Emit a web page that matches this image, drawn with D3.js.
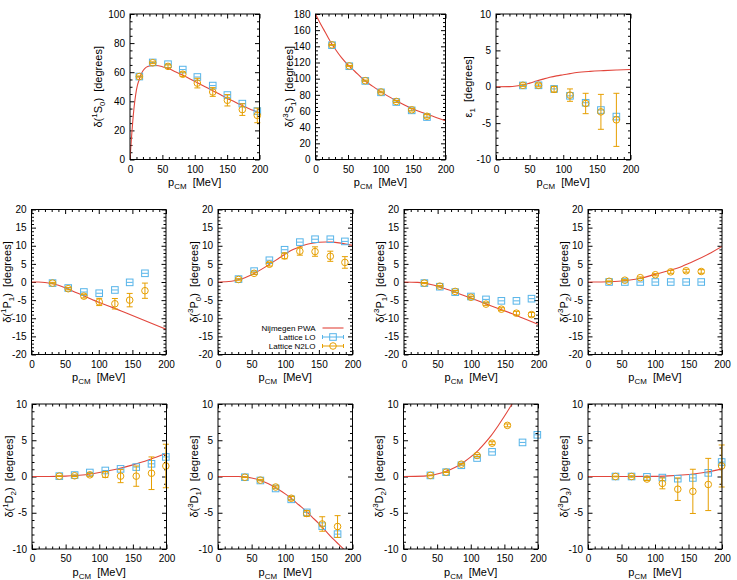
<!DOCTYPE html>
<html>
<head>
<meta charset="utf-8">
<script src="https://cdn.jsdelivr.net/npm/d3@7"></script>
<style>
  body { margin: 0; background: #fff; }
  svg text { font-family: "Liberation Sans", Arial, Helvetica, sans-serif; fill: #000; }
</style>
</head>
<body>
<svg id="chart" width="737" height="580"></svg>
<script>
// lattice momenta p_CM [MeV], phase shifts [degrees], N2LO errors [degrees]
// Nijmegen PWA curves as [p, delta] pairs
var mom1S0 = [14.4, 35.1, 58.7, 81.5, 104, 127.8, 150.4, 173.5, 196.6];
var lo1S0 = [57, 66.7, 65.5, 61.8, 56.7, 50.8, 44.3, 38.4, 33.3];
var n2lo1S0 = [57, 66.5, 64, 58.6, 52.5, 46.4, 40.7, 34.3, 30.3];
var err1S0 = [0.4, 0.6, 1, 1.5, 3.3, 3, 3.9, 4, 5];
var pwa1S0 = [[0,0],[2,13],[5,30],[10,48],[15,56],[20,61],[30,64.3],[40,64.6],[50,63.8],[60,62.3],[70,60.3],[80,58.2],[90,56],[100,53.7],[110,51.4],[120,49.1],[130,46.8],[140,44.5],[150,42],[160,40],[170,37.8],[180,35.8],[190,33.8],[200,32]];

var mom3S1 = [25.4, 52, 76.6, 100.8, 124.3, 148, 171.5];
var lo3S1 = [141.4, 115.4, 97.2, 83.1, 71.1, 60.8, 52.5];
var n2lo3S1 = [141.8, 115.8, 97.5, 83.5, 71.8, 61.5, 53.5];
var err3S1 = [0.5, 0.5, 0.7, 1, 1.2, 1.5, 2];
var pwa3S1 = [[0,180],[5,172],[10,164.5],[15,157.5],[20,150],[25,143],[30,137],[40,126],[50,117],[60,109.5],[75,98],[90,89.5],[100,84],[125,72.5],[150,62.5],[175,55],[200,48]];

var momE1 = [40, 63.2, 86.4, 110, 133.3, 156, 179];
var loE1 = [0.18, 0.2, -0.3, -1.25, -2.2, -3.2, -4.1];
var n2loE1 = [0.2, 0.2, -0.35, -1.15, -2.3, -3.45, -4.55];
var errE1 = [0.15, 0.2, 0.4, 0.85, 1.4, 2.4, 3.65];
var pwaE1 = [[0,0],[20,0.02],[30,0.1],[40,0.25],[50,0.5],[60,0.78],[70,1.05],[80,1.3],[90,1.5],[100,1.65],[110,1.8],[120,1.95],[140,2.12],[160,2.22],[180,2.3],[200,2.38]];

var mom1P1 = [31.3, 54.6, 77.9, 100.7, 124, 146, 168.7];
var lo1P1 = [-0.3, -1.66, -2.76, -3.1, -2.2, -0.1, 2.4];
var n2lo1P1 = [-0.3, -1.85, -3.9, -5.5, -6.0, -5.0, -2.4];
var err1P1 = [0.2, 0.3, 0.5, 1.0, 1.45, 1.85, 2.1];
var pwa1P1 = [[0,0],[10,-0.02],[20,-0.12],[30,-0.4],[40,-0.9],[50,-1.6],[60,-2.4],[70,-3.2],[80,-4.0],[90,-4.8],[100,-5.6],[120,-7.0],[140,-8.5],[160,-10.0],[180,-11.5],[200,-13]];

var mom3P0 = [30.5, 53.7, 76.4, 99, 121.7, 144.3, 167, 188.7];
var lo3P0 = [0.8, 3.0, 6.0, 8.9, 11.0, 11.8, 11.8, 11.2];
var n2lo3P0 = [0.7, 2.4, 4.9, 7.2, 8.5, 8.4, 7.1, 5.4];
var err3P0 = [0.2, 0.3, 0.5, 0.8, 1.1, 1.3, 1.4, 1.6];
var pwa3P0 = [[0,0],[20,0.2],[30,0.6],[40,1.2],[50,2.0],[60,3.0],[70,4.1],[80,5.3],[90,6.5],[100,7.7],[110,8.8],[120,9.6],[130,10.3],[140,10.7],[150,10.95],[160,11.05],[170,11.0],[180,10.8],[190,10.5],[200,10.1]];

var mom3P1 = [30.3, 53.2, 76.1, 99.5, 121.9, 144.8, 167.2, 189.6];
var lo3P1 = [-0.3, -1.3, -2.8, -4.0, -4.8, -5.2, -5.2, -4.6];
var n2lo3P1 = [-0.3, -1.15, -2.6, -4.2, -6.1, -7.5, -8.6, -9.0];
var err3P1 = [0.15, 0.2, 0.25, 0.3, 0.35, 0.4, 0.5, 0.6];
var pwa3P1 = [[0,0],[20,-0.1],[30,-0.3],[40,-0.7],[50,-1.2],[60,-1.8],[70,-2.4],[80,-3.1],[90,-3.8],[100,-4.5],[120,-5.9],[140,-7.3],[160,-8.7],[180,-10.2],[200,-11.7]];

var mom3P2 = [31.5, 55, 78, 100.5, 123.5, 146.5, 169];
var lo3P2 = [0, 0, 0, 0, 0, 0, 0];
var n2lo3P2 = [0.2, 0.5, 1.2, 2.0, 2.8, 3.1, 2.9];
var err3P2 = [0.1, 0.15, 0.2, 0.3, 0.4, 0.4, 0.5];
var pwa3P2 = [[0,0],[20,0.02],[40,0.15],[50,0.28],[60,0.48],[80,1.1],[100,2.1],[120,3.1],[140,4.3],[160,5.9],[180,7.7],[200,9.8]];

var mom1D2 = [40.6, 63.4, 86, 109, 131.7, 155, 177.7, 199];
var lo1D2 = [0.05, 0.2, 0.55, 0.83, 1.05, 1.3, 1.75, 2.7];
var n2lo1D2 = [0.05, 0.1, 0.23, 0.27, 0.05, 0.05, 0.45, 1.45];
var err1D2 = [0.05, 0.1, 0.2, 0.4, 0.9, 1.4, 2.25, 3.0];
var pwa1D2 = [[0,0],[25,0],[50,0.05],[75,0.2],[100,0.55],[125,1.0],[150,1.6],[175,2.35],[200,3.2]];

var mom3D1 = [40, 63, 85.7, 108.9, 132, 155, 177.8];
var lo3D1 = [-0.1, -0.55, -1.65, -3.15, -4.95, -6.85, -7.95];
var n2lo3D1 = [-0.1, -0.5, -1.45, -3.0, -5.1, -6.55, -6.9];
var err3D1 = [0.05, 0.1, 0.15, 0.25, 0.4, 1.0, 1.5];
var pwa3D1 = [[0,0],[30,0],[40,-0.05],[50,-0.2],[60,-0.45],[70,-0.8],[80,-1.25],[90,-1.8],[100,-2.4],[110,-3.1],[120,-3.9],[130,-4.7],[140,-5.6],[150,-6.5],[160,-7.5],[170,-8.5],[180,-9.4],[190,-10.3],[200,-11.2]];

var mom3D2 = [40, 63.4, 86, 109.4, 131.7, 154.5, 177, 199];
var lo3D2 = [0.15, 0.6, 1.55, 2.55, 3.4, null, 4.7, 5.75];
var n2lo3D2 = [0.15, 0.6, 1.7, 2.9, 4.6, 7.05, null, null];
var err3D2 = [0.05, 0.05, 0.1, 0.15, 0.2, 0.2, 0, 0];
var pwa3D2 = [[0,0],[30,0.05],[40,0.15],[50,0.35],[60,0.6],[70,0.95],[80,1.4],[90,2.0],[100,2.7],[110,3.5],[120,4.5],[130,5.6],[140,6.9],[150,8.3],[160,9.8],[170,11.4],[180,13]];

var mom3D3 = [41, 65, 88, 111, 134, 156.5, 179.5, 199.5];
var lo3D3 = [0, 0, -0.05, -0.15, -0.3, -0.2, 0.5, 2.0];
var n2lo3D3 = [0, 0, -0.35, -0.95, -1.75, -2.05, -1.1, 1.45];
var err3D3 = [0.05, 0.1, 0.2, 0.75, 1.55, 3.05, 3.6, 2.9];
var pwa3D3 = [[0,0],[100,0.02],[120,0.08],[140,0.2],[160,0.38],[180,0.65],[200,1.05]];

var legendNames = ['Nijmegen PWA', 'Lattice LO', 'Lattice N2LO'];

var red = '#e2463c', blue = '#56b4e9', orange = '#e69f00';
var SP = '\u00a0\u00a0';

function wave(s, l, j) {
  return [['δ(', ''], [s, 'sup'], [l, ''], [j, 'sub'], [')' + SP + '[degrees]', '']];
}

var panels = [
  {x: 130, y: 14, w: 129.5, h: 145.5, yDom: [0, 100], yStep: 20, ySub: 4, lab: wave('1', 'S', '0'), off: 32,
   mom: mom1S0, lo: lo1S0, n2: n2lo1S0, err: err1S0, pwa: pwa1S0},
  {x: 315.5, y: 14, w: 130, h: 145.5, yDom: [0, 180], yStep: 20, ySub: 4, lab: wave('3', 'S', '1'), off: 27,
   mom: mom3S1, lo: lo3S1, n2: n2lo3S1, err: err3S1, pwa: pwa3S1},
  {x: 496, y: 14, w: 134.5, h: 145.5, yDom: [-10, 10], yStep: 5, ySub: 5, lab: [['ε', ''], ['1', 'sub'], [SP + '[degrees]', '']], off: 28,
   mom: momE1, lo: loE1, n2: n2loE1, err: errE1, pwa: pwaE1},
  {x: 31.5, y: 209.5, w: 134.5, h: 145, yDom: [-20, 20], yStep: 5, ySub: 5, lab: wave('1', 'P', '1'), off: 24.5,
   mom: mom1P1, lo: lo1P1, n2: n2lo1P1, err: err1P1, pwa: pwa1P1},
  {x: 218, y: 209.5, w: 134.5, h: 145, yDom: [-20, 20], yStep: 5, ySub: 5, lab: wave('3', 'P', '0'), off: 24.5,
   mom: mom3P0, lo: lo3P0, n2: n2lo3P0, err: err3P0, pwa: pwa3P0, legend: true},
  {x: 404, y: 209.5, w: 134.5, h: 145, yDom: [-20, 20], yStep: 5, ySub: 5, lab: wave('3', 'P', '1'), off: 24.5,
   mom: mom3P1, lo: lo3P1, n2: n2lo3P1, err: err3P1, pwa: pwa3P1},
  {x: 588, y: 209.5, w: 134, h: 145, yDom: [-20, 20], yStep: 5, ySub: 5, lab: wave('3', 'P', '2'), off: 24.5,
   mom: mom3P2, lo: lo3P2, n2: n2lo3P2, err: err3P2, pwa: pwa3P2},
  {x: 32, y: 404, w: 134.5, h: 145, yDom: [-10, 10], yStep: 5, ySub: 5, lab: wave('1', 'D', '2'), off: 23,
   mom: mom1D2, lo: lo1D2, n2: n2lo1D2, err: err1D2, pwa: pwa1D2},
  {x: 218, y: 404, w: 134.5, h: 145, yDom: [-10, 10], yStep: 5, ySub: 5, lab: wave('3', 'D', '1'), off: 24.5,
   mom: mom3D1, lo: lo3D1, n2: n2lo3D1, err: err3D1, pwa: pwa3D1},
  {x: 403.5, y: 404, w: 134.5, h: 145, yDom: [-10, 10], yStep: 5, ySub: 5, lab: wave('3', 'D', '2'), off: 24.5,
   mom: mom3D2, lo: lo3D2, n2: n2lo3D2, err: err3D2, pwa: pwa3D2},
  {x: 588, y: 404, w: 134, h: 145, yDom: [-10, 10], yStep: 5, ySub: 5, lab: wave('3', 'D', '3'), off: 24.5,
   mom: mom3D3, lo: lo3D3, n2: n2lo3D3, err: err3D3, pwa: pwa3D3}
];

var svg = d3.select('#chart');

function richText(sel, parts, size) {
  var cur = 0;
  parts.forEach(function(p) {
    var target = p[1] === 'sup' ? -0.42 * size : (p[1] === 'sub' ? 0.3 * size : 0);
    sel.append('tspan')
      .attr('dy', target - cur)
      .attr('font-size', p[1] ? size * 0.72 : size)
      .text(p[0]);
    cur = target;
  });
}

function axis(g, gen, scale, vals, len, labels, pad, tr) {
  var a = g.append('g')
    .attr('transform', tr || null)
    .call(gen(scale).tickValues(vals).tickSize(-len).tickSizeOuter(0).tickPadding(pad)
      .tickFormat(labels ? function(d) { return String(d); } : ''));
  a.select('.domain').remove();
  a.selectAll('line').attr('stroke', '#000').attr('stroke-width', 1);
  a.selectAll('text').attr('font-size', 10).attr('font-family', null);
  return a;
}

function square(g, cx, cy) {
  g.append('rect').attr('x', cx - 3.3).attr('y', cy - 3.3).attr('width', 6.6).attr('height', 6.6)
    .attr('fill', 'none').attr('stroke', blue).attr('stroke-width', 1);
}

function errBar(g, cx, y1, y2, col) {
  g.append('line').attr('x1', cx).attr('x2', cx).attr('y1', y1).attr('y2', y2).attr('stroke', col);
  [y1, y2].forEach(function(yy) {
    g.append('line').attr('x1', cx - 3).attr('x2', cx + 3).attr('y1', yy).attr('y2', yy).attr('stroke', col);
  });
}

panels.forEach(function(c, i) {
  var g = svg.append('g').attr('transform', 'translate(' + c.x + ',' + c.y + ')');
  var x = d3.scaleLinear().domain([0, 200]).range([0, c.w]);
  var y = d3.scaleLinear().domain(c.yDom).range([c.h, 0]);

  var xMajor = d3.range(0, 201, 50);
  var xMinor = d3.range(0, 201, 10).filter(function(v) { return v % 50 !== 0; });
  var yMajor = d3.range(c.yDom[0], c.yDom[1] + 0.001, c.yStep);
  var ms = c.yStep / c.ySub;
  var yMinor = d3.range(c.yDom[0], c.yDom[1] + 0.001, ms).filter(function(v) {
    var f = ((v - c.yDom[0]) / c.yStep) % 1;
    return f > 0.01 && f < 0.99;
  });

  var cid = 'clip' + i;
  g.append('clipPath').attr('id', cid).append('rect').attr('width', c.w).attr('height', c.h);

  // ticks (inward, mirrored)
  axis(g, d3.axisBottom, x, xMajor, 4.5, true, 6, 'translate(0,' + c.h + ')');
  axis(g, d3.axisBottom, x, xMinor, 2.5, false, 0, 'translate(0,' + c.h + ')');
  axis(g, d3.axisTop, x, xMajor, 4.5, false, 0);
  axis(g, d3.axisTop, x, xMinor, 2.5, false, 0);
  axis(g, d3.axisLeft, y, yMajor, 4.5, true, 5);
  axis(g, d3.axisLeft, y, yMinor, 2.5, false, 0);
  axis(g, d3.axisRight, y, yMajor, 4.5, false, 0, 'translate(' + c.w + ',0)');
  axis(g, d3.axisRight, y, yMinor, 2.5, false, 0, 'translate(' + c.w + ',0)');

  // axis labels
  var xl = g.append('text').attr('x', c.w / 2).attr('y', c.h + 26.5).attr('text-anchor', 'middle');
  richText(xl, [['p', ''], ['CM', 'sub'], [SP + '[MeV]', '']], 11);

  var yl = g.append('text')
    .attr('transform', 'translate(' + (-c.off + 4) + ',' + (c.h / 2) + ') rotate(-90)')
    .attr('text-anchor', 'middle');
  richText(yl, c.lab, 11);

  // Nijmegen PWA
  var line = d3.line()
    .x(function(d) { return x(d[0]); })
    .y(function(d) { return y(d[1]); })
    .curve(d3.curveMonotoneX);
  g.append('path').datum(c.pwa).attr('clip-path', 'url(#' + cid + ')')
    .attr('d', line).attr('fill', 'none').attr('stroke', red).attr('stroke-width', 1.1);

  // Lattice LO
  var pts = g.append('g');
  c.mom.forEach(function(p, k) {
    if (c.lo[k] === null) return;
    var cx = x(p), cy = y(c.lo[k]);
    pts.append('line').attr('x1', cx - 3).attr('x2', cx + 3).attr('y1', cy).attr('y2', cy).attr('stroke', blue);
    square(pts, cx, cy);
  });
  // Lattice N2LO
  c.mom.forEach(function(p, k) {
    if (c.n2[k] === null) return;
    var cx = x(p), cy = y(c.n2[k]);
    errBar(pts, cx, y(c.n2[k] - c.err[k]), y(c.n2[k] + c.err[k]), orange);
    pts.append('circle').attr('cx', cx).attr('cy', cy).attr('r', 3.3)
      .attr('fill', 'none').attr('stroke', orange).attr('stroke-width', 1);
  });

  // frame
  g.append('rect').attr('width', c.w).attr('height', c.h)
    .attr('fill', 'none').attr('stroke', '#000').attr('stroke-width', 1);

  if (c.legend) {
    var lg = g.append('g').attr('transform', 'translate(' + (c.w - 33) + ',' + (c.h - 26.5) + ')');
    legendNames.forEach(function(name, k) {
      var ly = k * 9;
      lg.append('text').attr('x', -4).attr('y', ly).attr('dy', '0.35em')
        .attr('text-anchor', 'end').attr('font-size', 8).text(name);
      if (k === 0) {
        lg.append('line').attr('x1', 3).attr('x2', 24).attr('y1', ly).attr('y2', ly)
          .attr('stroke', red).attr('stroke-width', 1.1);
      } else {
        var col = k === 1 ? blue : orange;
        lg.append('line').attr('x1', 3).attr('x2', 24).attr('y1', ly).attr('y2', ly).attr('stroke', col);
        [3, 24].forEach(function(xx) {
          lg.append('line').attr('x1', xx).attr('x2', xx).attr('y1', ly - 2).attr('y2', ly + 2).attr('stroke', col);
        });
        if (k === 1) square(lg, 13.5, ly);
        else lg.append('circle').attr('cx', 13.5).attr('cy', ly).attr('r', 3.3)
          .attr('fill', 'none').attr('stroke', orange);
      }
    });
  }
});
</script>
</body>
</html>
